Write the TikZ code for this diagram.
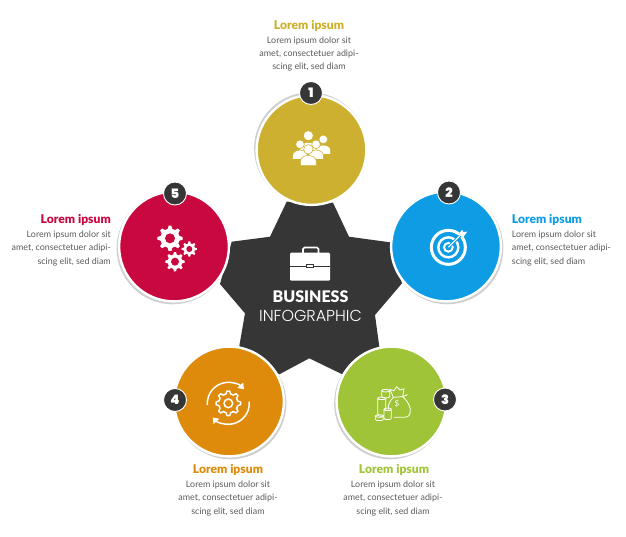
\documentclass[tikz,border=0pt]{standalone}
\usepackage{fontspec}
\usetikzlibrary{arrows.meta}
\setmainfont{Lato}
\newfontfamily\headf[UprightFont=*,BoldFont=* Black]{Lato}
\newfontfamily\numf[UprightFont=* Black]{Poppins}
\newfontfamily\lightf[UprightFont=* Light]{Poppins}
\definecolor{cgold}{HTML}{CDB02F}
\definecolor{cblue}{HTML}{0E9DE4}
\definecolor{cgreen}{HTML}{A0C437}
\definecolor{corange}{HTML}{DE8A0B}
\definecolor{cred}{HTML}{C8083F}
\definecolor{cdark}{HTML}{363636}
\definecolor{ctext}{HTML}{5A5A5A}
\definecolor{cshadow}{HTML}{CFCFCF}
\tikzset{
  disc/.style={circle,minimum size=109.8pt,inner sep=0pt,draw=white,line width=2.4pt,outer sep=0pt},
  halo/.style={circle,minimum size=112.2pt,inner sep=0pt,fill=cshadow,outer sep=0pt},
  badge/.style={circle,minimum size=23pt,inner sep=0pt,fill=cdark,draw=white,line width=0.9pt,text=white,font=\numf\fontsize{13}{13}\selectfont},
  headline/.style={font=\headf\bfseries\fontsize{12.1}{13}\selectfont,inner sep=0pt},
  body/.style={font=\fontsize{8.9}{13.2}\selectfont,text=ctext,inner sep=0pt},
  iconline/.style={draw=white,line width=0.8pt,line join=round,line cap=round},
}
% gear outline path: radius outer, radius inner, teeth
\newcommand\gearpath[3]{({-110/#3}:#2) \foreach \k in {1,...,#3}{ -- ({(\k-1)*360/#3-50/#3}:#1) -- ({(\k-1)*360/#3+50/#3}:#1) -- ({(\k-1)*360/#3+110/#3}:#2) -- ({\k*360/#3-110/#3}:#2)} -- cycle}
\newcommand\redgear[4]{\begin{scope}[shift={(#1)}]\fill[white] \gearpath{#2}{#3}{8};\fill[cred] (0,0) circle ({#4});\end{scope}}
\newcommand\coin[4]{\filldraw[iconline,fill=cgreen] (#1-#4,#2) -- (#1-#4,#3) arc (180:0:#4 and 4) -- (#1+#4,#2) arc (0:180:#4 and 4);\draw[iconline] (#1-#4,#2) arc (180:360:#4 and 4);}
\newcommand\person[3]{\filldraw[white,draw=cgold,line width=0.55pt] (#1-1.7*#3,#2+3.5*#3) -- (#1-1.7*#3,#2+2.6*#3) .. controls (#1-1.7*#3,#2+0.9*#3) and (#1+1.7*#3,#2+0.9*#3) .. (#1+1.7*#3,#2+2.6*#3) -- (#1+1.7*#3,#2+3.5*#3) -- cycle;\filldraw[white,draw=cgold,line width=0.55pt] (#1,#2) circle ({#3});}
\begin{document}
\begin{tikzpicture}[x=1pt,y=-1pt]
\useasboundingbox (0,0) rectangle (626,536);
% central star
\fill[cdark] (286.7,201.7) -- (333,202.7) -- (349,236.7) -- (390,242.3) -- (402,283.3) -- (375,315) -- (379.3,346.7) -- (342.3,374.3) -- (309.3,358.3) -- (279.3,374.3) -- (239.3,346) -- (245,313.3) -- (220,284) -- (231.7,241.7) -- (270,236.7) -- cycle;
% shadows
\node[halo] (s1) at (310.2,148.4) {};
\node[halo] (s2) at (447.3,248.2) {};
\node[halo] (s3) at (390.2,403.2) {};
\node[halo] (s4) at (230.3,403.2) {};
\node[halo] (s5) at (172.7,248.2) {};
% discs
\node[disc,fill=cgold]   (c1) at (311.5,150) {};
\node[disc,fill=cblue]   (c2) at (446,246.5) {};
\node[disc,fill=cgreen]  (c3) at (391.5,401.5) {};
\node[disc,fill=corange] (c4) at (229,401.5) {};
\node[disc,fill=cred]    (c5) at (174,246.5) {};
% badges
\node[badge] (b1) at (311,93) {1};
\node[badge] (b2) at (449,192.5) {2};
\node[badge] (b3) at (445,399.5) {3};
\node[badge] (b4) at (175,400) {4};
\node[badge] (b5) at (175,193.5) {5};
% briefcase
\draw[white,line width=1.6pt,rounded corners=1.5pt] (303,253) -- (303,247.5) -- (318.5,247.5) -- (318.5,253);
\fill[white,rounded corners=1.2pt] (290,252.7) rectangle (330,280.7);
\draw[cdark,line width=0.7pt] (290,266) -- (306,266) (313.5,266) -- (330,266);
\draw[cdark,line width=0.7pt] (306,264) rectangle (313.5,267.8);
\node[font=\headf\bfseries\fontsize{16}{16}\selectfont,text=white,inner sep=0pt] (t1) at (310.5,297) {BUSINESS};
\node[font=\lightf\fontsize{15.9}{16}\selectfont,text=white,inner sep=0pt] (t2) at (310.5,316) {INFOGRAPHIC};
% people
\begin{scope}[shift={(250,10)},scale=1/3]
\person{175}{377}{15}
\person{220}{388}{13}
\person{150}{403}{13}
\person{198}{403}{13}
\person{175}{418}{14}
\end{scope}
% target
\begin{scope}[shift={(385,175)},scale=1/3]
\draw[white,line width=3pt] (190,217) circle (51);
\draw[white,line width=2.4pt] (190,217) circle (30);
\draw[white,line width=2pt] (190,217) circle (13);
\draw[cblue,line width=3pt] (190,217) -- (240,167);
\draw[white,line width=1.1pt] (190,217) -- (228,179);
\fill[white] (218,180) -- (232,164) -- (234,171) -- (247,170) -- (232,190) -- (228,182) -- cycle;
\end{scope}
% money bag
\begin{scope}[shift={(330,340)},scale=1/3]
\draw[iconline] (190,172) .. controls (172,190) and (170,215) .. (180,222);
\draw[iconline] (218,170) .. controls (235,185) and (245,205) .. (240,220) .. controls (237,230) and (230,232) .. (222,232) -- (192,232);
\draw[iconline] (190,172) -- (218,170);
\draw[iconline] (190,172) -- (180,148) -- (192,152) -- (200,140) -- (210,150) -- (222,146) -- (218,170) -- (232,164);
\node[text=white,inner sep=0pt,font=\fontsize{8}{8}\selectfont] (dollar) at (201,192) {\$};
\coin{167}{152}{170}{12}
\coin{155}{175}{225}{12}
\coin{173}{208}{235}{11}
\coin{148}{228}{238}{12}
\end{scope}
% gear with circular arrows
\begin{scope}[shift={(160,340)},scale=1/3]
\begin{scope}[shift={(205,190)}]
\draw[white,line width=1.5pt,-{Triangle[width=7.5pt,length=5.5pt]}] (175:63) arc (175:318:63);
\draw[white,line width=1.5pt,-{Triangle[width=7.5pt,length=5.5pt]}] (-5:63) arc (-5:138:63);
\draw[white,line width=1.5pt,line join=round] \gearpath{37}{29}{8};
\draw[white,line width=1.5pt] (0,0) circle (13);
\end{scope}
\end{scope}
% gears
\begin{scope}[shift={(110,175)},scale=1/3]
\redgear{180,190}{38}{29}{15}
\redgear{238,222}{23}{17}{9}
\redgear{195,260}{29}{22}{12}
\end{scope}
% texts
\node[headline,text=cgold] (h1) at (309,26) {Lorem ipsum};
\node[body,align=center,anchor=north] (p1) at (309,36.5) {Lorem ipsum dolor sit\\amet, consectetuer adipi-\\scing elit, sed diam};
\node[headline,text=cblue,anchor=west] (h2) at (511.7,220) {Lorem ipsum};
\node[body,align=left,anchor=north west] (p2) at (511.7,231) {Lorem ipsum dolor sit\\amet, consectetuer adipi-\\scing elit, sed diam};
\node[headline,text=cgreen] (h3) at (394,470) {Lorem ipsum};
\node[body,align=center,anchor=north] (p3) at (393,481) {Lorem ipsum dolor sit\\amet, consectetuer adipi-\\scing elit, sed diam};
\node[headline,text=corange] (h4) at (228,470) {Lorem ipsum};
\node[body,align=center,anchor=north] (p4) at (228,481) {Lorem ipsum dolor sit\\amet, consectetuer adipi-\\scing elit, sed diam};
\node[headline,text=cred,anchor=east] (h5) at (111,220) {Lorem ipsum};
\node[body,align=right,anchor=north east] (p5) at (111,231) {Lorem ipsum dolor sit\\amet, consectetuer adipi-\\scing elit, sed diam};
\end{tikzpicture}
\end{document}
